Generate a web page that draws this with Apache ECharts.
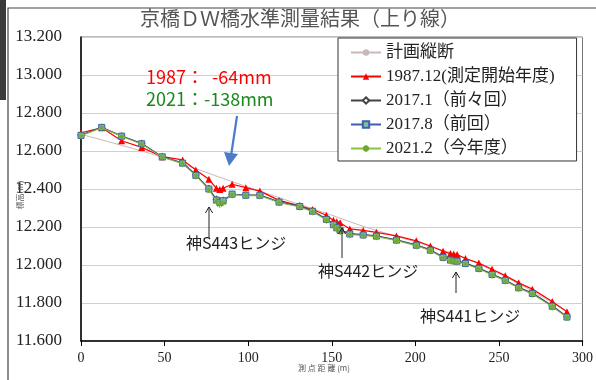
<!DOCTYPE html>
<html>
<head>
<meta charset="utf-8">
<script src="https://cdn.jsdelivr.net/npm/echarts@6/dist/echarts.min.js"></script>
<style>
  html, body { margin: 0; padding: 0; background: #fff; }
  #main { width: 596px; height: 380px; }
</style>
</head>
<body>
<div id="main"></div>
<script>
// 測点距離 (m)
var distances = [0, 12.4, 24.3, 36.3, 48.6, 60.8, 68.7, 76.5, 81, 83, 85, 90.4, 98.6, 107, 118.5,
    130.9, 138.5, 146.8, 151, 153, 155, 160.8, 168.8, 176.7, 188.7, 200.6, 209, 216.6, 221, 223, 225,
    230, 238, 245.9, 253.8, 261.8, 270, 281.9, 290.7];

// 1987.12 (測定開始年度)
var h1987 = [12.696, 12.722, 12.654, 12.619, 12.570, 12.553, 12.500, 12.451, 12.404, 12.398, 12.404, 12.425, 12.407, 12.389, 12.340,
    12.312, 12.292, 12.262, 12.236, 12.228, 12.222, 12.190, 12.182, 12.172, 12.153, 12.127, 12.100, 12.072, 12.060, 12.058, 12.055,
    12.034, 12.010, 11.978, 11.944, 11.906, 11.873, 11.808, 11.754];

// 2017.1 (前々回)
var h2017a = [12.684, 12.725, 12.679, 12.640, 12.570, 12.538, 12.474, 12.402, 12.345, 12.333, 12.340, 12.372, 12.368, 12.368, 12.333,
    12.310, 12.285, 12.242, 12.215, 12.200, 12.185, 12.165, 12.160, 12.154, 12.133, 12.106, 12.080, 12.042, 12.028, 12.025, 12.022,
    12.010, 11.984, 11.952, 11.921, 11.882, 11.852, 11.785, 11.728];

// 2017.8 (前回)
var h2017b = [12.682, 12.724, 12.678, 12.638, 12.569, 12.536, 12.472, 12.400, 12.342, 12.330, 12.338, 12.373, 12.367, 12.367, 12.331,
    12.308, 12.283, 12.240, 12.212, 12.196, 12.182, 12.163, 12.158, 12.152, 12.131, 12.104, 12.078, 12.040, 12.026, 12.022, 12.020,
    12.008, 11.982, 11.950, 11.919, 11.880, 11.850, 11.783, 11.726];

// 2021.2 (今年度)
var h2021 = [12.680, 12.722, 12.676, 12.636, 12.567, 12.533, 12.469, 12.396, 12.335, 12.318, 12.328, 12.370, 12.365, 12.364, 12.328,
    12.305, 12.280, 12.236, 12.206, 12.190, 12.176, 12.160, 12.155, 12.149, 12.128, 12.101, 12.075, 12.037, 12.022, 12.018, 12.016,
    12.005, 11.979, 11.947, 11.916, 11.877, 11.847, 11.780, 11.723];

// 計画縦断
var planDist = [0, 48.6, 90, 120, 150, 170, 200, 230, 260, 290.7];
var planH = [12.688, 12.568, 12.440, 12.350, 12.262, 12.200, 12.122, 12.036, 11.910, 11.756];

var seriesNames = ['計画縦断', '1987.12(測定開始年度)', '2017.1（前々回）', '2017.8（前回）', '2021.2（今年度）'];

function pairs(xs, ys) {
    return xs.map(function (x, i) { return [x, ys[i]]; });
}

var serif = '"Liberation Serif", "DejaVu Serif", "Noto Sans CJK JP", serif';
var gothic = '"Noto Sans CJK JP", "Noto Sans", sans-serif';
var asterisk = 'path://M0,5L10,5M5,0L5,10M1.5,1.5L8.5,8.5M8.5,1.5L1.5,8.5';

var chart = echarts.init(document.getElementById('main'));

// 矢印 (注記用)
function arrow(x, y1, y2, color, w, head) {
    return [
        { type: 'line', shape: { x1: x, y1: y1, x2: x, y2: y2 }, style: { stroke: color, lineWidth: w }, z: 100 },
        { type: 'polyline', shape: { points: [[x - head * 0.6, y2 + head], [x, y2], [x + head * 0.6, y2 + head]] },
          style: { stroke: color, lineWidth: w, fill: null }, z: 100 }
    ];
}

var graphics = [
    // 外枠
    { type: 'rect', shape: { x: 8, y: 8, width: 620, height: 400 }, style: { stroke: '#444', lineWidth: 1.2, fill: null }, z: 0 },
    { type: 'rect', shape: { x: 0, y: 0, width: 6, height: 100 }, style: { fill: '#3a3a3a' }, z: 0 },
    // タイトル
    { type: 'text', left: 140, top: 8, style: { text: '京橋ＤＷ橋水準測量結果（上り線）', font: '20px ' + gothic, fill: '#555' }, z: 100 },
    // 注記
    { type: 'text', left: 146, top: 68, style: { text: '1987：  -64mm', font: '18px ' + gothic, fill: '#ff0000' }, z: 100 },
    { type: 'text', left: 146, top: 90, style: { text: '2021：-138mm', font: '18px ' + gothic, fill: '#1a8a1a' }, z: 100 },
    { type: 'text', left: 186, top: 235, style: { text: '神S443ヒンジ', font: '16px ' + gothic, fill: '#222' }, z: 100 },
    { type: 'text', left: 318, top: 263, style: { text: '神S442ヒンジ', font: '16px ' + gothic, fill: '#222' }, z: 100 },
    { type: 'text', left: 420, top: 308, style: { text: '神S441ヒンジ', font: '16px ' + gothic, fill: '#222' }, z: 100 },
    // 軸名
    { type: 'text', x: 20, y: 195, rotation: Math.PI / 2, style: { text: '標高(m)', font: '8px ' + gothic, fill: '#555', align: 'center', verticalAlign: 'middle' }, z: 100 },
    { type: 'text', left: 298, top: 364, style: { text: '測 点 距 離 (m)', font: '8px ' + gothic, fill: '#555' }, z: 100 },
    // 青矢印
    { type: 'line', shape: { x1: 237, y1: 116, x2: 231, y2: 156 }, style: { stroke: '#4a7cc8', lineWidth: 2.2 }, z: 100 },
    { type: 'polygon', shape: { points: [[224, 152], [238, 154], [229, 166]] }, style: { fill: '#4a7cc8' }, z: 100 }
];
graphics = graphics.concat(arrow(209, 238, 207, '#222', 1, 6));
graphics = graphics.concat(arrow(342, 258, 228, '#222', 1, 6));
graphics = graphics.concat(arrow(456, 293, 272, '#222', 1, 6));

var option = {
    backgroundColor: '#fff',
    animation: false,
    grid: {
        left: 81, right: 13, top: 37, bottom: 39,
        show: true, borderColor: '#777', borderWidth: 1
    },
    legend: {
        orient: 'vertical',
        left: 338, top: 38,
        data: seriesNames,
        backgroundColor: '#fff',
        borderColor: '#333',
        borderWidth: 1,
        borderRadius: 0,
        padding: [6, 22, 4, 12],
        itemGap: 7,
        itemWidth: 30,
        itemHeight: 8,
        textStyle: { fontFamily: serif, fontSize: 17, color: '#222' }
    },
    xAxis: {
        type: 'value',
        min: 0, max: 300, interval: 50,
        axisLine: { onZero: false, lineStyle: { color: '#000', width: 1.5 } },
        axisTick: { show: true, length: 5, lineStyle: { color: '#000' } },
        axisLabel: { fontFamily: serif, fontSize: 14, color: '#222', margin: 10 },
        splitLine: { show: false }
    },
    yAxis: {
        type: 'value',
        min: 11.6, max: 13.2, interval: 0.2,
        axisLine: { show: true, lineStyle: { color: '#000', width: 1.5 } },
        axisTick: { show: false },
        axisLabel: {
            fontFamily: serif, fontSize: 17, color: '#222', margin: 19,
            formatter: function (v) { return v.toFixed(3); }
        },
        splitLine: { lineStyle: { color: '#cfcfcf', width: 1 } }
    },
    series: [
        {
            name: seriesNames[0], type: 'line', data: pairs(planDist, planH),
            symbol: 'none', smooth: 0.3,
            lineStyle: { color: '#c8b8b8', width: 1 }, itemStyle: { color: '#c8b8b8' }, z: 1
        },
        {
            name: seriesNames[1], type: 'line', data: pairs(distances, h1987),
            symbol: 'triangle', symbolSize: 7,
            lineStyle: { color: '#ff0000', width: 1.2 }, itemStyle: { color: '#ff0000' }, z: 2
        },
        {
            name: seriesNames[2], type: 'line', data: pairs(distances, h2017a),
            symbol: 'diamond', symbolSize: 6,
            lineStyle: { color: '#444', width: 1.2 }, itemStyle: { color: '#fff', borderColor: '#444', borderWidth: 1.2 }, z: 3
        },
        {
            name: seriesNames[3], type: 'line', data: pairs(distances, h2017b),
            symbol: 'rect', symbolSize: 6,
            lineStyle: { color: '#3f5fa8', width: 1 }, itemStyle: { color: '#7fbfa8', borderColor: '#3f5fa8', borderWidth: 1 }, z: 4
        },
        {
            name: seriesNames[4], type: 'line', data: pairs(distances, h2021),
            symbol: asterisk, symbolSize: 7,
            lineStyle: { color: '#8fbf3f', width: 1 }, itemStyle: { color: '#8fbf3f', borderColor: '#6fa82f', borderWidth: 1 }, z: 5
        }
    ],
    graphic: graphics
};

chart.setOption(option);
</script>
</body>
</html>
